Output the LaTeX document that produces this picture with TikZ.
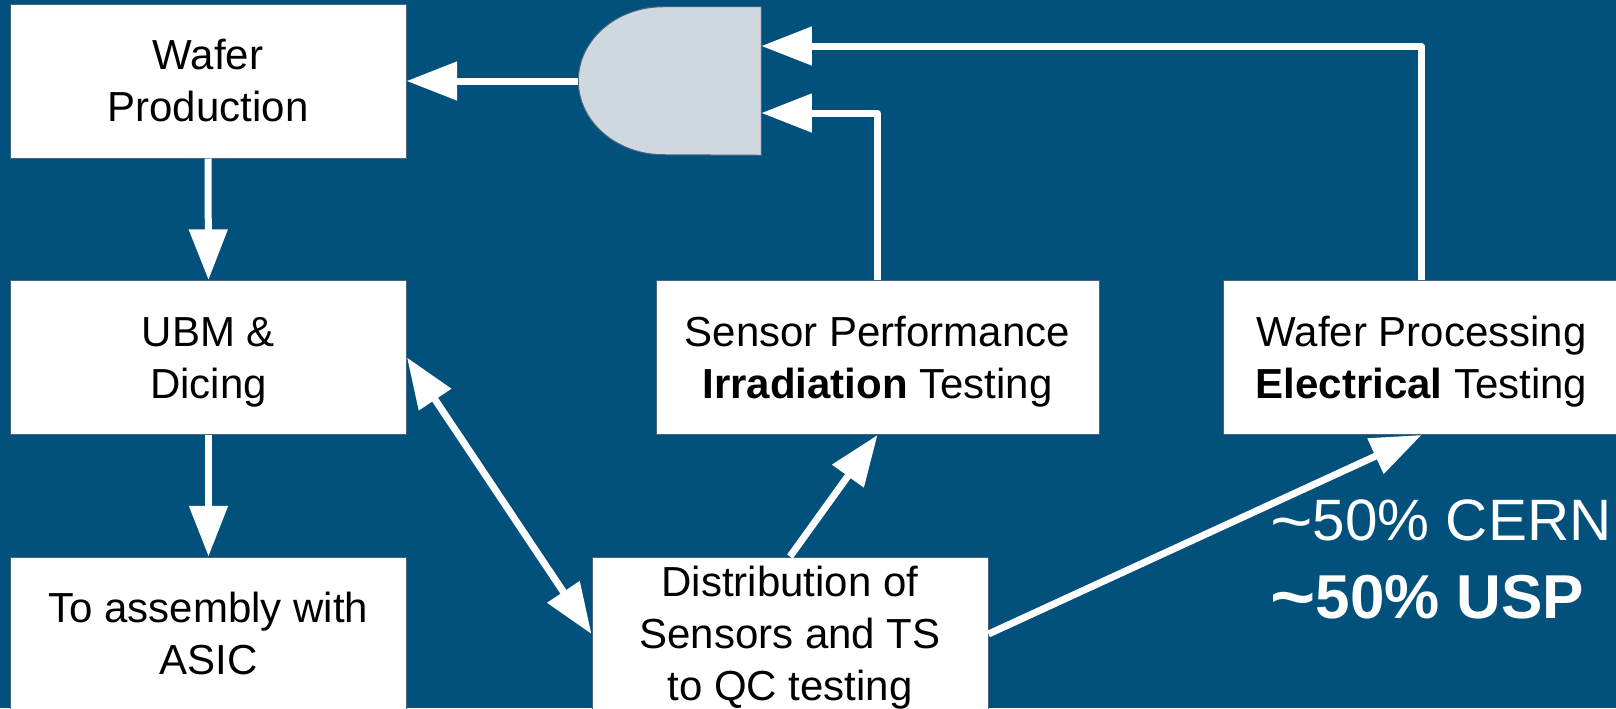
\documentclass[tikz,border=0pt]{standalone}
\usepackage{fontspec}
\setmainfont{Liberation Sans}
\usetikzlibrary{arrows.meta}
\definecolor{bg}{RGB}{1,81,124}
\definecolor{gatefill}{RGB}{207,216,222}
\definecolor{boxedge}{RGB}{70,100,125}
\newcommand{\bstrut}{\rule[-6.75pt]{0pt}{35.25pt}}
\newcommand{\bigtilde}{\raisebox{-0.06em}{\scalebox{1.25}[1.15]{\textasciitilde}}}
\begin{document}
\begin{tikzpicture}[x=0.75pt,y=-0.75pt,
  box/.style={draw=boxedge, line width=0.75pt, fill=white, minimum width=297pt,
    minimum height=115.5pt, inner sep=0pt, align=center,
    font=\fontsize{31.5pt}{39pt}\selectfont},
  arr/.style={draw=white, line width=5.25pt, line join=round,
    -{Triangle[length=38pt,width=28pt]}},
  darr/.style={draw=white, line width=5.25pt,
    {Triangle[length=38pt,width=28pt]}-{Triangle[length=38pt,width=28pt]}},
  pct/.style={text=white, anchor=base west, inner sep=0pt}]
\useasboundingbox (0,0) rectangle (1616,708);
\clip (0,0) rectangle (1616,708);
\fill[bg] (0,0) rectangle (1616,708);

% boxes
\node[box] (wp) at (208,81) {\bstrut Wafer\\\bstrut Production};
\node[box] (ubm) at (208.5,357.5) {\bstrut UBM \&\\\bstrut Dicing};
\node[box] (asm) at (208.5,634) {\bstrut To assembly with\\\bstrut ASIC};
\node[box, minimum width=332.25pt] (sens) at (877.5,357.5)
  {\bstrut Sensor Performance\\\bstrut \textbf{Irradiation} Testing};
\node[box] (proc) at (1421.5,357.5)
  {\bstrut Wafer Processing\\\bstrut \textbf{Electrical} Testing};
\node[box] (dist) at (790,634)
  {\bstrut Distribution of\\\bstrut Sensors and TS\\\bstrut to QC testing};

% gate shape
\node[minimum width=137.25pt, minimum height=111pt, inner sep=0pt] (gate) at (669.5,81) {};
\fill[gatefill, draw=boxedge, line width=0.75pt] (gate.north east)
  -- ([xshift=-73.5pt]gate.north east)
  arc[start angle=90, end angle=270, x radius=63.75pt, y radius=55.5pt]
  -- (gate.south east) -- cycle;

% connectors
\draw[arr] (wp.south) -- (ubm.north);
\draw[arr] (ubm.south) -- (asm.north);
\draw[arr] (gate.west) -- (wp.east);
\draw[arr] (proc.north) |- ([yshift=26.25pt]gate.east);
\draw[arr] (sens.north) |- ([yshift=-24pt]gate.east);
\draw[darr] (ubm.east) -- (dist.west);
\draw[arr] (dist.north) -- (sens.south);
\draw[arr] (dist.east) -- (proc.south);

% share text
\node[pct, font=\fontsize{43.8pt}{50pt}\selectfont] (cern) at (1270,540.7) {\bigtilde 50\% CERN};
\node[pct, font=\fontsize{46.5pt}{50pt}\selectfont\bfseries] (usp) at (1270,618) {\bigtilde 50\% USP};
\end{tikzpicture}
\end{document}
